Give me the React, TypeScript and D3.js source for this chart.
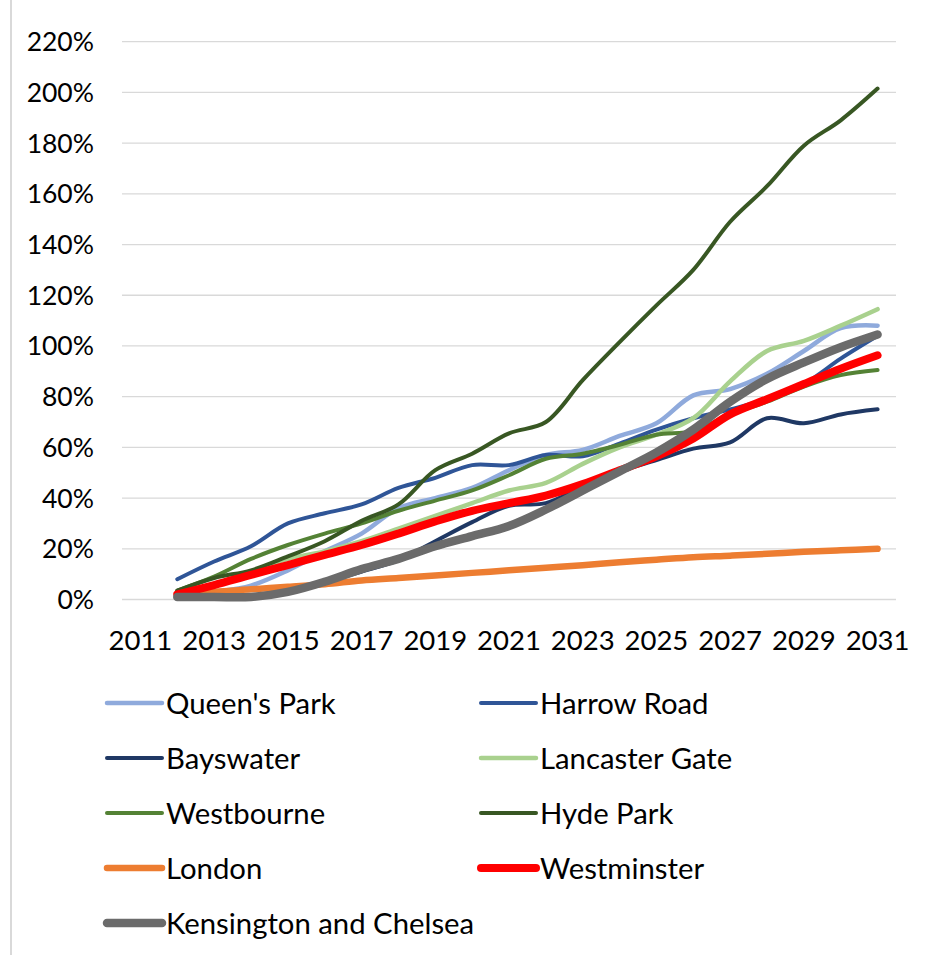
import React from "react";
import * as d3 from "d3";

const years = [2011,2012,2013,2014,2015,2016,2017,2018,2019,2020,2021,2022,2023,2024,2025,2026,2027,2028,2029,2030,2031];
const xTickLabels = ["2011","2013","2015","2017","2019","2021","2023","2025","2027","2029","2031"];
const yTicks = [0,20,40,60,80,100,120,140,160,180,200,220];

// values in %, 2011 has no value
const queensPark = [null,1.5,3,5.5,11.5,19,26,36,40,44,51,57,59,64.5,69.5,80.5,83,89,98,107,108];
const harrowRoad = [null,8,15,21,30,34,37.5,44,48,53,53,57,56.5,61.5,67,71.5,75,79,85,95,104];
const bayswater = [null,1,1,1.5,4,7,11,15.5,23,30.5,37,38,44.5,50.5,55,59.5,62,71.5,69.5,73,75];
const lancasterGate = [null,2.5,6,11,16,19,23,28,33,38,43,46,53.5,60,65,71.5,86,98,102,108,114.5];
const westbourne = [null,3.5,9,16,21.5,26,30,35,39,43,49,55.5,57.5,61,65,66.5,73,78,84,88.5,90.5];
const hydePark = [null,3.5,8.5,11.5,17,23,31,37.5,51,57.5,65.5,70,86.5,101.5,116,130,149,163,179,189,201.5];
const london = [null,1.5,3,4,5,6,7.5,8.5,9.5,10.5,11.5,12.5,13.5,14.7,15.7,16.7,17.3,18,18.8,19.4,20];
const westminster = [null,2,5.7,9.7,13.6,17.6,21.5,26,30.8,35,38,41,45.5,51,56.5,63.5,73,79,85,91,96.3];
const kensington = [null,1,1,1,3,7,12,16,21,25,29,35.5,43,50.5,58,67,78,87,93.5,99.5,104.5];

const seriesNames = ["Queen's Park","Harrow Road","Bayswater","Lancaster Gate","Westbourne","Hyde Park","London","Westminster","Kensington and Chelsea"];
const seriesValues = [queensPark,harrowRoad,bayswater,lancasterGate,westbourne,hydePark,london,westminster,kensington];
const seriesColors = ["#8FAADC","#2F5597","#1F3864","#A9D18E","#548235","#385723","#ED7D31","#FF0000","#6B6B6B"];
const seriesWidths = [4.5,4,4,4.5,4,4,6.5,8,8.5];

const W = 925, H = 955;
const plot = { left: 122, right: 896, top: 41.7, bottom: 599.5 };
const FONT = "Lato, 'Liberation Sans', sans-serif";

export default function App() {
  const x = d3.scaleBand<number>().domain(years).range([plot.left, plot.right]).padding(0);
  const cx = (yr: number) => (x(yr) as number) + x.bandwidth() / 2;
  const y = d3.scaleLinear().domain([0, 220]).range([plot.bottom, plot.top]);

  const line = d3.line<number | null>()
    .defined((d) => d !== null)
    .x((_, i) => cx(years[i]))
    .y((d) => y(d as number))
    .curve(d3.curveCatmullRom.alpha(0.5));

  const legendCols = [107, 481];
  const legendRowY = [703, 758, 813, 868, 923];

  return (
    <svg width={W} height={H} style={{ position: "absolute", left: 0, top: 0, background: "#fff" }} fontFamily={FONT}>
      <rect x={0} y={0} width={W} height={H} fill="#fff" />
      <line x1={11} x2={11} y1={0} y2={H} stroke="#d9d9d9" strokeWidth={2} />
      {yTicks.map((t) => (
        <g key={t}>
          <line x1={plot.left} x2={plot.right} y1={y(t)} y2={y(t)} stroke="#d9d9d9" strokeWidth={1.3} />
          <text x={94} y={y(t)} dy="0.36em" textAnchor="end" fontSize={26.5} fill="#000">{t}%</text>
        </g>
      ))}
      {xTickLabels.map((l) => (
        <text key={l} x={cx(+l)} y={640} dy="0.36em" textAnchor="middle" fontSize={27.5} fill="#000">{l}</text>
      ))}
      {seriesValues.map((vals, i) => (
        <path key={seriesNames[i]} d={line(vals) || ""} fill="none" stroke={seriesColors[i]} strokeWidth={seriesWidths[i]} strokeLinecap="round" strokeLinejoin="round" />
      ))}
      {seriesNames.map((name, i) => {
        const col = i % 2;
        const row = Math.floor(i / 2);
        const lx = legendCols[col];
        const ly = legendRowY[row];
        return (
          <g key={name}>
            <line x1={lx} x2={lx + 55} y1={ly} y2={ly} stroke={seriesColors[i]} strokeWidth={seriesWidths[i]} strokeLinecap="round" />
            <text x={lx + 59} y={ly} dy="0.36em" fontSize={29.3} fill="#000">{name}</text>
          </g>
        );
      })}
    </svg>
  );
}
